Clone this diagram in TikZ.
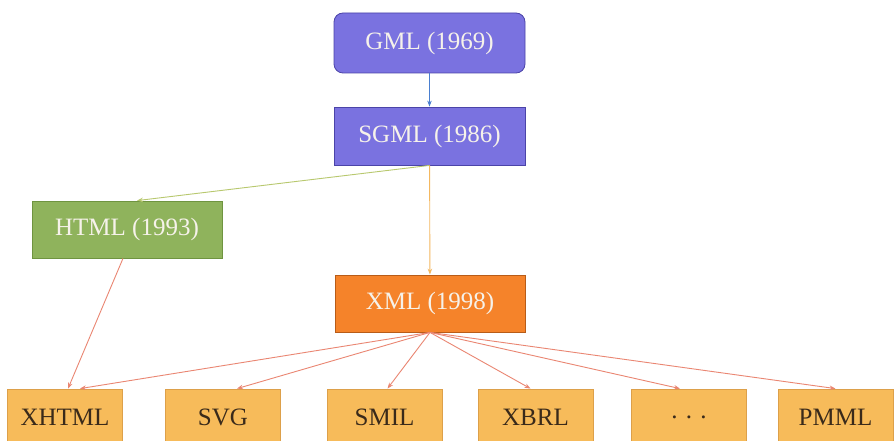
\documentclass[tikz,border=0pt]{standalone}
\usepackage{fontspec}
\setmainfont{Liberation Serif}
\usetikzlibrary{arrows.meta,calc}
\definecolor{gmlfill}{HTML}{7A72E0}
\definecolor{gmldraw}{HTML}{4B44A8}
\definecolor{htmlfill}{HTML}{8FB35C}
\definecolor{htmldraw}{HTML}{6F9440}
\definecolor{xmlfill}{HTML}{F5832A}
\definecolor{xmldraw}{HTML}{B85C18}
\definecolor{leaffill}{HTML}{F7BB5A}
\definecolor{leafdraw}{HTML}{DDA04A}
\definecolor{lighttext}{HTML}{F6F2EA}
\definecolor{darktext}{HTML}{3A2A1A}
\definecolor{bluearrow}{HTML}{4A7FD0}
\definecolor{greenarrow}{HTML}{B8C86E}
\definecolor{yellowarrow}{HTML}{F4B860}
\definecolor{redarrow}{HTML}{EA8672}
\tikzset{
  base/.style={draw, line width=0.8pt, inner sep=0pt, font=\fontsize{25}{28}\selectfont},
  topbox/.style={base, fill=gmlfill, draw=gmldraw, text=lighttext, minimum width=191pt},
  greenbox/.style={base, fill=htmlfill, draw=htmldraw, text=lighttext, minimum width=190pt, minimum height=57pt},
  orangebox/.style={base, fill=xmlfill, draw=xmldraw, text=lighttext, minimum width=190pt, minimum height=57pt},
  leaf/.style={base, fill=leaffill, draw=leafdraw, text=darktext, minimum width=115pt, minimum height=56pt},
  conn/.style={line width=0.9pt, -{Stealth[length=6pt,width=4.5pt]}},
}
\begin{document}
\begin{tikzpicture}[x=1pt,y=-1pt]
\clip (0,0) rectangle (896,441);
\fill[white] (0,0) rectangle (896,441);
\node[topbox, rounded corners=9pt, minimum height=60pt] (gml) at (429.5,43) {GML (1969)};
\node[topbox, minimum height=58pt] (sgml) at (429.5,136) {SGML (1986)};
\node[greenbox] (html) at (127,229.5) {HTML (1993)};
\node[orangebox] (xml) at (430,303.5) {XML (1998)};
\node[leaf] (xhtml) at (65,417) {XHTML};
\node[leaf] (svg) at (223,417) {SVG};
\node[leaf] (smil) at (384.5,417) {SMIL};
\node[leaf] (xbrl) at (535.5,417) {XBRL};
\node[leaf] (dots) at (689,417) {. . .};
\node[leaf] (pmml) at (835.5,417) {PMML};

\draw[conn, bluearrow] (gml) -- (sgml);
\draw[conn, greenarrow] (sgml.south) -- ($(html.north)+(10,0)$);
\draw[conn, yellowarrow] (sgml) -- (xml);
\draw[conn, redarrow] ($(html.south)+(-4,0)$) -- ($(xhtml.north)+(3,0)$);
\draw[conn, redarrow] (xml.south) -- ($(xhtml.north)+(15,0)$);
\draw[conn, redarrow] (xml.south) -- ($(svg.north)+(14,0)$);
\draw[conn, redarrow] (xml.south) -- ($(smil.north)+(3,0)$);
\draw[conn, redarrow] (xml.south) -- ($(xbrl.north)+(-5,0)$);
\draw[conn, redarrow] (xml.south) -- ($(dots.north)+(-9,0)$);
\draw[conn, redarrow] (xml.south) -- (pmml.north);
\end{tikzpicture}
\end{document}
